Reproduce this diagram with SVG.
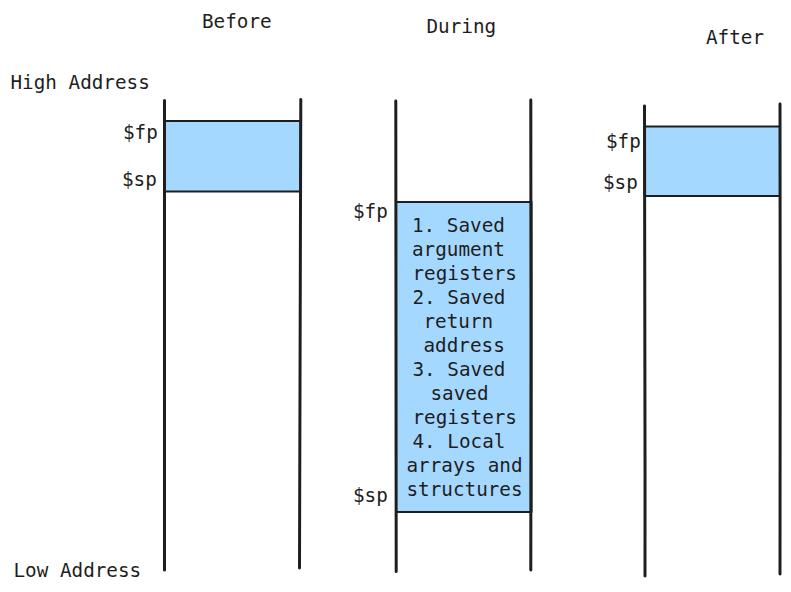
<svg xmlns="http://www.w3.org/2000/svg" width="791" height="592" viewBox="0 0 791 592">
  <style>
    .t { font-family: "DejaVu Sans Mono", "Liberation Mono", monospace; font-size: 19.3px; fill: #1e1e1e; }
    .col { fill: none; stroke: #1e1e1e; stroke-width: 3; stroke-linecap: round; }
    .box { fill: #a5d8ff; stroke: #1e1e1e; stroke-width: 2; stroke-linejoin: round; }
  </style>
  <rect width="791" height="592" fill="#ffffff"/>

  <g id="labels">
    <text class="t" x="10.5" y="89">High Address</text>
    <text class="t" x="13.5" y="577">Low Address</text>
  </g>

  <g id="before">
    <text class="t" x="202" y="28">Before</text>
    <rect class="box" x="165" y="121" width="135.5" height="70.5"/>
    <text class="t" x="123" y="139">$fp</text>
    <text class="t" x="122" y="186">$sp</text>
  </g>

  <g id="during">
    <text class="t" x="426.5" y="33">During</text>
    <rect class="box" x="396" y="202" width="135.5" height="310"/>
    <text class="t" x="353" y="218">$fp</text>
    <text class="t" x="353" y="502">$sp</text>
    <text class="t">
      <tspan x="412" y="232">1. Saved</tspan>
      <tspan x="412" y="256">argument</tspan>
      <tspan x="412.5" y="280">registers</tspan>
      <tspan x="412.5" y="304">2. Saved</tspan>
      <tspan x="423.5" y="328">return</tspan>
      <tspan x="423.5" y="352">address</tspan>
      <tspan x="412.5" y="376">3. Saved</tspan>
      <tspan x="430.5" y="400">saved</tspan>
      <tspan x="412.5" y="424">registers</tspan>
      <tspan x="412.5" y="448">4. Local</tspan>
      <tspan x="406.5" y="472">arrays and</tspan>
      <tspan x="406.5" y="496">structures</tspan>
    </text>
  </g>

  <g id="after">
    <text class="t" x="706" y="44">After</text>
    <rect class="box" x="644.5" y="126.5" width="135.5" height="69.5"/>
    <text class="t" x="606" y="148">$fp</text>
    <text class="t" x="603" y="189">$sp</text>
  </g>

  <g id="connectors">
    <path class="col" d="M164.5 100.5 Q164.2 335 164.5 570"/>
    <path class="col" d="M300.8 99.5 Q300.2 334 299.5 568"/>
    <path class="col" d="M395.8 101 Q396.3 336 396.2 571.5"/>
    <path class="col" d="M530.8 100 Q531.2 335 530.8 570"/>
    <path class="col" d="M644.5 106 Q645.2 341 645 576"/>
    <path class="col" d="M780 104 Q780.4 339 780 574"/>
  </g>
</svg>
